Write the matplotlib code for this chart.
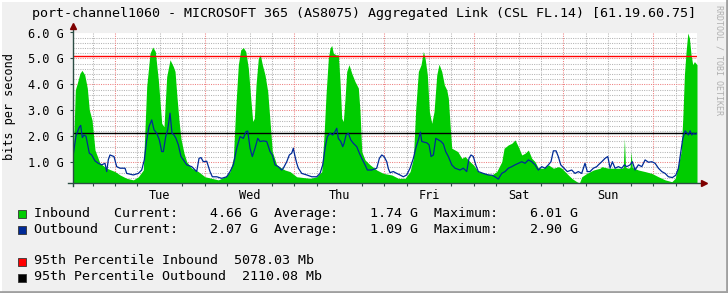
import matplotlib
matplotlib.use('Agg')
import matplotlib.pyplot as plt
from matplotlib.patches import Rectangle
from matplotlib.lines import Line2D

# time axis in hours, 0 = Tue 00:00
in_hours = [-11.16, -10.62, -10.09, -9.37, -8.83, -8.11, -7.41, -6.88, -6.15, -5.35,
            -4.01, -2.22, 0.0, 1.34, 3.13, 4.90, 6.24, 7.57, 8.48, 9.37,
            10.09, 10.78, 11.59, 12.50, 13.11, 13.83, 14.72, 15.60, 16.06, 16.59,
            17.13, 17.66, 18.46, 19.19, 20.52, 22.29, 24.08, 25.88, 27.64, 29.44,
            30.77, 31.66, 32.30, 33.00, 33.64, 34.33, 34.98, 35.67, 36.39, 36.85,
            37.28, 37.73, 38.35, 38.88, 39.42, 40.13, 40.86, 41.48, 42.09, 43.27,
            44.61, 45.49, 46.83, 48.62, 50.39, 52.18, 53.97, 55.31, 55.93, 56.46,
            57.08, 57.53, 57.99, 58.42, 59.14, 59.75, 60.21, 60.66, 61.09, 61.55,
            62.00, 62.62, 63.34, 64.22, 65.11, 65.56, 66.02, 66.90, 68.24, 70.03,
            71.80, 74.05, 75.81, 77.60, 78.94, 79.83, 80.47, 81.17, 81.89, 82.50,
            82.96, 83.57, 84.11, 84.75, 85.36, 86.09, 86.70, 87.42, 88.12, 88.76,
            89.19, 89.65, 90.10, 90.98, 91.71, 92.78, 93.66, 95.00, 95.88, 97.22,
            99.01, 100.8, 102.14, 103.48, 104.10, 104.63, 105.25, 106.16, 107.04, 107.92,
            108.83, 109.72, 110.60, 111.51, 112.39, 113.27, 114.61, 115.95, 117.29, 118.63,
            119.53, 120.87, 122.21, 123.55, 124.25, 124.89, 126.23, 128.00, 129.79, 130.24,
            132.01, 133.80, 135.59, 136.00, 136.29, 136.60, 137.36, 137.80, 138.08, 138.40,
            140.04, 141.83, 143.63, 145.40, 147.19, 148.98, 149.87, 150.75, 151.47, 151.92,
            152.35, 152.80, 153.26, 153.68, 154.14, 154.59, 155.02, 155.72]
in_gbps = [1.35, 3.79, 4.05, 4.43, 4.54, 4.37, 3.86, 3.02, 2.63, 1.47,
           0.96, 0.77, 0.64, 0.51, 0.38, 0.32, 0.44, 0.70, 3.92, 5.20,
           5.44, 5.27, 4.18, 2.50, 2.37, 4.30, 4.95, 4.69, 4.50, 3.50,
           2.60, 1.90, 1.35, 1.02, 0.77, 0.64, 0.44, 0.38, 0.32, 0.44,
           0.64, 1.15, 3.08, 4.76, 5.33, 5.42, 5.27, 4.63, 3.34, 2.57,
           2.70, 3.98, 5.01, 5.14, 4.76, 4.37, 3.73, 2.57, 1.41, 0.90,
           0.77, 0.70, 0.64, 0.44, 0.41, 0.38, 0.44, 0.64, 2.05, 3.60,
           5.01, 5.40, 5.50, 5.20, 5.14, 5.14, 4.11, 2.70, 2.57, 3.47,
           4.50, 4.76, 4.43, 4.11, 3.86, 2.95, 1.41, 1.09, 0.90, 0.70,
           0.57, 0.51, 0.38, 0.38, 0.64, 1.15, 3.08, 4.50, 4.76, 5.27,
           5.01, 4.37, 2.95, 2.50, 2.95, 4.37, 4.78, 4.50, 3.98, 3.79,
           3.47, 2.44, 1.54, 1.47, 1.41, 1.15, 1.22, 1.02, 0.90, 0.64,
           0.57, 0.51, 0.64, 1.02, 1.54, 1.60, 1.67, 1.73, 1.86, 1.60,
           1.28, 1.35, 1.47, 1.15, 1.02, 0.77, 0.77, 0.90, 0.77, 0.83,
           0.77, 0.57, 0.38, 0.25, 0.20, 0.44, 0.57, 0.70, 0.77, 0.83,
           0.77, 0.77, 0.77, 0.80, 1.92, 0.80, 0.77, 0.80, 1.41, 0.80,
           0.70, 0.64, 0.57, 0.44, 0.32, 0.25, 0.38, 0.90, 1.41, 2.70,
           4.37, 5.27, 5.98, 5.79, 5.14, 4.76, 4.88, 4.76]

out_hours = [-11.16, -10.44, -9.55, -9.18, -8.75, -8.30, -7.76, -7.31, -6.88, -6.24,
             -5.35, -4.47, -3.56, -2.68, -2.22, -1.79, -1.34, -0.27, 0.45, 1.34,
             2.68, 3.13, 4.90, 6.24, 7.14, 7.84, 8.48, 9.10, 9.82, 10.44,
             11.16, 11.86, 12.50, 12.93, 13.57, 14.10, 14.72, 15.25, 15.79, 16.32,
             16.94, 17.66, 18.28, 19.19, 20.52, 21.86, 22.48, 23.02, 23.63, 24.54,
             25.42, 26.04, 27.22, 28.55, 29.89, 30.77, 31.66, 32.57, 33.45, 34.33,
             35.06, 35.51, 36.13, 36.74, 37.46, 38.19, 38.80, 39.69, 40.60, 41.48,
             42.09, 42.82, 43.70, 44.61, 45.04, 45.95, 46.64, 47.29, 47.71, 48.17,
             48.62, 49.05, 49.96, 51.30, 52.64, 53.97, 54.86, 55.58, 56.20, 56.81,
             57.53, 58.26, 58.87, 59.33, 59.75, 60.40, 60.93, 61.28, 61.82, 62.43,
             63.08, 63.77, 64.68, 65.38, 66.02, 66.90, 67.52, 68.69, 70.03, 70.73,
             71.37, 71.99, 72.71, 73.14, 73.58, 74.47, 75.37, 76.25, 77.14, 78.05,
             78.94, 79.83, 80.47, 81.17, 81.70, 82.08, 82.78, 83.42, 84.03, 84.57,
             85.19, 85.83, 86.53, 87.25, 87.87, 88.48, 89.19, 90.10, 90.98, 92.32,
             93.20, 94.10, 94.72, 95.25, 95.88, 96.51, 97.22, 98.55, 99.89, 100.88,
             101.67, 102.56, 103.48, 104.36, 105.25, 106.16, 107.04, 107.92, 108.83, 109.72,
             110.60, 111.51, 112.39, 113.27, 114.18, 115.06, 115.95, 116.65, 117.29, 118.00,
             118.61, 119.26, 120.14, 121.02, 122.19, 123.08, 123.96, 124.87, 125.75, 126.37,
             127.09, 127.99, 128.89, 129.34, 130.24, 131.12, 131.85, 132.47, 133.08, 133.80,
             134.69, 135.59, 136.29, 136.93, 137.82, 138.43, 139.15, 140.04, 140.95, 141.83,
             142.72, 143.63, 144.51, 145.40, 146.30, 147.19, 148.07, 149.14, 150.05, 150.75,
             151.39, 151.92, 152.54, 153.08, 153.43, 153.88, 154.33, 154.76, 155.21, 155.72]
out_gbps = [1.30, 2.02, 2.35, 2.42, 1.95, 2.05, 2.00, 1.67, 1.35, 1.28,
            1.05, 0.96, 0.90, 0.96, 0.64, 1.10, 1.28, 1.22, 0.83, 0.77,
            0.77, 0.57, 0.51, 0.57, 0.70, 1.09, 1.86, 2.37, 2.63, 2.25,
            2.12, 1.86, 1.41, 1.41, 1.99, 2.25, 2.89, 2.12, 2.05, 1.92,
            1.67, 1.22, 1.09, 0.90, 0.83, 0.64, 1.15, 1.18, 1.02, 1.04,
            0.64, 0.44, 0.44, 0.38, 0.44, 0.64, 0.90, 1.54, 1.99, 1.92,
            2.18, 2.20, 1.54, 1.22, 1.54, 1.92, 1.80, 1.82, 1.80, 1.41,
            1.28, 0.90, 0.83, 0.70, 0.77, 1.02, 1.28, 1.35, 1.54, 1.22,
            0.96, 0.77, 0.57, 0.51, 0.44, 0.44, 0.57, 0.90, 1.54, 1.99,
            2.12, 2.05, 2.18, 2.31, 1.92, 1.80, 1.60, 1.73, 2.05, 2.12,
            1.86, 1.73, 1.60, 1.35, 1.15, 0.90, 0.70, 0.70, 0.77, 1.15,
            1.28, 1.22, 1.02, 0.75, 0.60, 0.64, 0.57, 0.51, 0.44, 0.51,
            0.77, 1.15, 1.54, 1.86, 2.16, 1.80, 1.77, 1.75, 1.67, 1.22,
            1.28, 1.92, 1.86, 1.80, 1.70, 1.41, 1.22, 0.90, 0.77, 0.70,
            0.77, 0.64, 1.15, 1.28, 1.22, 0.90, 0.64, 0.57, 0.51, 0.50,
            0.44, 0.35, 0.57, 0.64, 0.77, 0.83, 0.90, 0.96, 1.02, 0.96,
            1.09, 1.02, 0.90, 0.70, 0.83, 0.77, 0.90, 1.02, 1.44, 1.44,
            1.22, 0.90, 0.77, 0.64, 0.70, 0.57, 0.64, 0.57, 0.96, 0.64,
            0.64, 0.77, 0.83, 0.90, 1.02, 1.15, 1.22, 0.77, 1.02, 0.77,
            0.83, 0.77, 0.90, 0.83, 0.90, 1.02, 0.70, 0.90, 0.83, 1.09,
            1.00, 1.02, 0.96, 0.77, 0.64, 0.57, 0.44, 0.41, 0.50, 0.77,
            1.41, 1.92, 2.21, 2.12, 2.05, 2.21, 2.05, 2.12, 2.08, 2.12]

day_labels = ['Tue', 'Wed', 'Thu', 'Fri', 'Sat', 'Sun']
day_centres = [12, 36, 60, 84, 108, 132]
y_ticks = [1, 2, 3, 4, 5, 6]

pct_in_mb = 5078.03
pct_out_mb = 2110.08
stats_in = ['4.66 G', '1.74 G', '6.01 G']
stats_out = ['2.07 G', '1.09 G', '2.90 G']

title = 'port-channel1060 - MICROSOFT 365 (AS8075) Aggregated Link (CSL FL.14) [61.19.60.75]'

W, H = 728, 293
GREEN = '#00CC00'
BLUE = '#002A97'
AXIS = '#2C4D43'
ARROW = '#7F0000'

plt.rcParams['font.family'] = ['DejaVu Sans Mono', 'DejaVu Sans']

fig = plt.figure(figsize=(W / 100, H / 100), dpi=100)
fig.patch.set_facecolor('#F0F0F0')

# canvas in pixel coordinates of the original graph
left, right, top, bottom = 73, 697, 32.5, 183
ax = fig.add_axes([left / W, 1 - bottom / H, (right - left) / W, (bottom - top) / H])
ax.set_facecolor('white')
ax.set_xlim(-11.24, 155.72)
ax.set_ylim(0.2, 6.0)

# grid: minor every 6 h / 0.2 G, major every day / 1 G
for h in range(-6, 156, 6):
    if h % 24:
        ax.axvline(h, color='#B4B4B4', lw=0.75, ls=(0, (1, 1.2)), zorder=0.5)
for k in range(2, 30):
    v = k * 0.2
    if k % 5:
        ax.axhline(v, color='#B4B4B4', lw=0.75, ls=(0, (1, 1.2)), zorder=0.5)
for h in range(0, 156, 24):
    ax.axvline(h, color='#EE8080', lw=0.75, ls=(0, (1, 1.2)), zorder=0.6)
for v in y_ticks:
    ax.axhline(v, color='#EE8080', lw=0.75, ls=(0, (1, 1.2)), zorder=0.6)

ax.fill_between(in_hours, 0, in_gbps, color=GREEN, lw=0, zorder=1)
ax.axhline(pct_in_mb / 1000, color='#FF0000', lw=1, zorder=2)
ax.axhline(pct_out_mb / 1000, color='black', lw=1, zorder=2)
ax.plot(out_hours, out_gbps, color=BLUE, lw=0.9, zorder=3)

for s in ax.spines.values():
    s.set_visible(False)
# axis lines with arrows
ax.plot([-0.008, 1.012], [0, 0], transform=ax.transAxes, color=AXIS, lw=1, clip_on=False, zorder=4)
ax.plot([0, 0], [-0.02, 1.04], transform=ax.transAxes, color=AXIS, lw=1, clip_on=False, zorder=4)
ax.plot([1.012], [0], marker='>', ms=4, color=ARROW, transform=ax.transAxes, clip_on=False, zorder=5)
ax.plot([0], [1.04], marker='^', ms=4, color=ARROW, transform=ax.transAxes, clip_on=False, zorder=5)

ax.set_yticks(y_ticks)
ax.set_yticklabels([f'{v:.1f} G' for v in y_ticks], fontsize=8.6)
ax.tick_params(axis='y', length=2.5, width=0.8, color=AXIS, pad=4)
ax.set_xticks(day_centres)
ax.set_xticklabels(day_labels, fontsize=8.6)
ax.set_xticks(list(range(-6, 156, 6)), minor=True)
ax.tick_params(axis='x', which='major', length=0, pad=4)
ax.tick_params(axis='x', which='minor', length=2, width=0.8, color=AXIS)

fig.text(364 / W, 1 - 14 / H, title, ha='center', va='center', fontsize=9.6)
fig.text(10 / W, 1 - 107 / H, 'bits per second', rotation=90, ha='center', va='center', fontsize=8.6)
fig.text(719 / W, 1 - 60 / H, 'RRDTOOL / TOBI OETIKER', rotation=270, ha='center', va='center',
         fontsize=6, color='#B0B0B0')

# legend
rows = [
    (213, GREEN, f"{'Inbound':<10}Current:{stats_in[0]:>10}  Average:{stats_in[1]:>10}  Maximum:{stats_in[2]:>10}"),
    (229, BLUE, f"{'Outbound':<10}Current:{stats_out[0]:>10}  Average:{stats_out[1]:>10}  Maximum:{stats_out[2]:>10}"),
    (261, '#FF0000', f"95th Percentile Inbound  {pct_in_mb:.2f} Mb"),
    (277, '#000000', f"95th Percentile Outbound  {pct_out_mb:.2f} Mb"),
]
for y, col, txt in rows:
    fig.patches.append(Rectangle((17.5 / W, 1 - (y + 4.5) / H), 8 / W, 8 / H, transform=fig.transFigure,
                                 facecolor=col, edgecolor='#333333', lw=0.6))
    fig.text(34 / W, 1 - y / H, txt, ha='left', va='center', fontsize=9.6)

# shaded frame
fig.lines.append(Line2D([1 - 1.5 / W] * 2, [0, 1], transform=fig.transFigure, color='#A0A0A0', lw=2))
fig.lines.append(Line2D([0, 1], [1.5 / H] * 2, transform=fig.transFigure, color='#A0A0A0', lw=2))
fig.lines.append(Line2D([0, 1 - 3 / W], [1 - 1 / H] * 2, transform=fig.transFigure, color='#FFFFFF', lw=1.5))
fig.lines.append(Line2D([1 / W] * 2, [3 / H, 1], transform=fig.transFigure, color='#FFFFFF', lw=1.5))

fig.savefig('out.png', dpi=100, facecolor=fig.get_facecolor())
